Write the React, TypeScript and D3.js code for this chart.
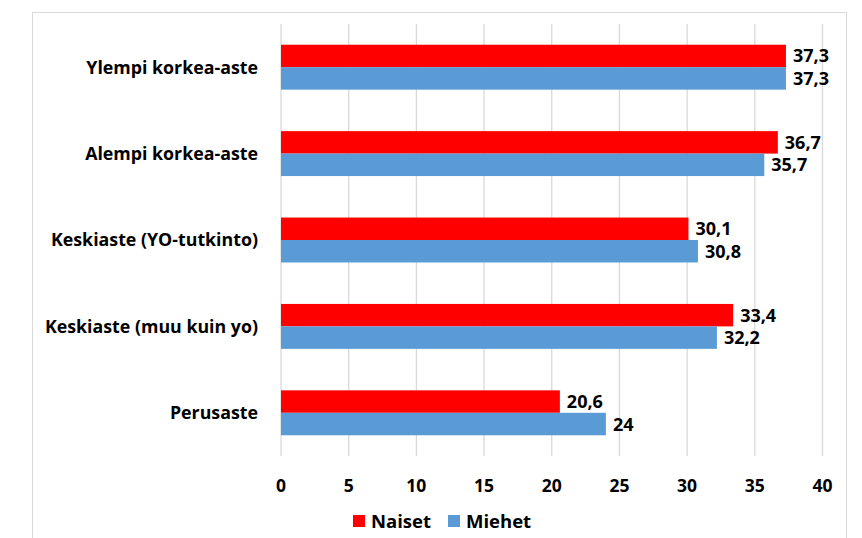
import React from "react";
import * as d3 from "d3";

const categories = ["Ylempi korkea-aste", "Alempi korkea-aste", "Keskiaste (YO-tutkinto)", "Keskiaste (muu kuin yo)", "Perusaste"];
const naiset = [37.3, 36.7, 30.1, 33.4, 20.6];
const miehet = [37.3, 35.7, 30.8, 32.2, 24];
const naisetLabels = ["37,3", "36,7", "30,1", "33,4", "20,6"];
const miehetLabels = ["37,3", "35,7", "30,8", "32,2", "24"];
const xTicks = [0, 5, 10, 15, 20, 25, 30, 35, 40];
const seriesNames = ["Naiset", "Miehet"];
const colors = ["#ff0000", "#5b9bd5"];

const W = 862, H = 538;
const FONT = "'Open Sans', 'Noto Sans', sans-serif";

export default function App() {
  const x = d3.scaleLinear().domain([0, 40]).range([281, 822.5]);
  const y = d3.scaleBand<string>().domain(categories).range([24, 456]).paddingInner(0.48).paddingOuter(0.24);
  const bh = y.bandwidth() / 2;
  const series = [naiset, miehet];
  const labels = [naisetLabels, miehetLabels];
  return (
    <svg width={W} height={H} style={{ position: "absolute", left: 0, top: 0 }} fontFamily={FONT}>
      <rect x={0} y={0} width={W} height={H} fill="#fff" />
      <rect x={32.5} y={12.5} width={814} height={540} fill="none" stroke="#d9d9d9" strokeWidth={1} />
      {xTicks.map((t) => (
        <line key={t} x1={x(t)} x2={x(t)} y1={24} y2={456} stroke="#d9d9d9" strokeWidth={1.3} />
      ))}
      {categories.map((c, i) => (
        <g key={c}>
          {series.map((s, j) => (
            <g key={j}>
              <rect x={x(0)} y={(y(c) as number) + j * bh} width={x(s[i]) - x(0)} height={bh} fill={colors[j]} />
              <text x={x(s[i]) + 7} y={(y(c) as number) + j * bh + bh / 2} dy="0.36em" fontSize={18} fontWeight="bold" fill="#000">
                {labels[j][i]}
              </text>
            </g>
          ))}
          <text x={258} y={(y(c) as number) + bh} dy="0.36em" textAnchor="end" fontSize={17.8} fontWeight="bold" fill="#000">
            {c}
          </text>
        </g>
      ))}
      {xTicks.map((t) => (
        <text key={t} x={x(t)} y={486} dy="0.36em" textAnchor="middle" fontSize={17.5} fontWeight="bold" fill="#000">
          {t}
        </text>
      ))}
      {seriesNames.map((n, j) => (
        <g key={n} transform={`translate(${[353, 448][j]},521)`}>
          <rect x={0} y={-6} width={12} height={12} fill={colors[j]} />
          <text x={18} y={0} dy="0.36em" fontSize={18.5} fontWeight="bold" fill="#000">{n}</text>
        </g>
      ))}
    </svg>
  );
}
